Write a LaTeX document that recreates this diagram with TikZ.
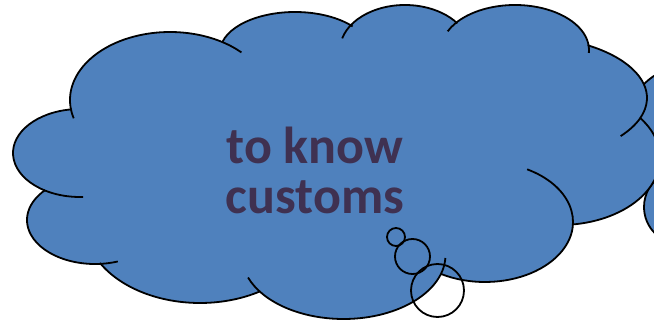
\documentclass[tikz,border=0pt]{standalone}
\usepackage{fontspec}
\setmainfont{Carlito}
\usetikzlibrary{calc}
\definecolor{cloudblue}{RGB}{79,129,189}
\definecolor{textpurple}{RGB}{63,49,81}
\begin{document}
\begin{tikzpicture}[x=1pt,y=-1pt,
  outl/.style={draw=black,line width=1.8pt},
  cloudfill/.style={fill=cloudblue},
  label/.style={font=\bfseries\fontsize{52}{50}\selectfont,text=textpurple,anchor=base,inner sep=0pt}]
\useasboundingbox (0,0) rectangle (654,321);
\clip (0,0) rectangle (654,321);
% second cloud at the right edge (behind)
\fill[cloudfill] (690,130) circle[radius=65];
\fill[cloudfill] (681,207) circle[radius=37];
\draw[outl] ($(690,130)+(190:65)$) arc[start angle=190,end angle=290,radius=65];
\draw[outl] ($(681,207)+(90:37)$) arc[start angle=90,end angle=240,radius=37];
% main cloud fill
\fill[cloudfill]
 ($(95,220)+(85.7:68 and 44)$) arc[start angle=85.7,end angle=222.9,x radius=68,y radius=44]
 -- ($(80,153)+(121.8:67 and 44)$) arc[start angle=121.8,end angle=263.1,x radius=67,y radius=44]
 -- ($(170,100)+(171.5:100 and 68)$) arc[start angle=171.5,end angle=301.9,x radius=100,y radius=68]
 -- ($(295,52)+(194.6:75 and 40)$) arc[start angle=194.6,end angle=320.2,x radius=75,y radius=40]
 -- ($(405,50)+(209.6:65 and 45)$) arc[start angle=209.6,end angle=323.7,x radius=65,y radius=45]
 -- ($(515,50)+(220:74 and 45)$) arc[start angle=220,end angle=353.6,x radius=74,y radius=45]
 -- ($(522,98)+(301.7:125 and 62)$) arc[start angle=301.7,end angle=377.7,x radius=125,y radius=62]
 -- ($(560,158)+(323.3:100 and 67)$) arc[start angle=323.3,end angle=442.5,x radius=100,y radius=67]
 -- ($(485,222)+(1.9:88 and 60)$) arc[start angle=1.9,end angle=119.9,x radius=88,y radius=60]
 -- ($(343.5,255)+(16.2:102 and 64)$) arc[start angle=16.2,end angle=144.8,x radius=102,y radius=64]
 -- ($(200,224)+(58.8:115 and 79)$) arc[start angle=58.8,end angle=150.4,x radius=115,y radius=79]
 -- cycle;
% main cloud outline (lobes with their inner tails)
\draw[outl] ($(95,220)+(70.4:68 and 44)$) arc[start angle=70.4,end angle=222.9,x radius=68,y radius=44];
\draw[outl] ($(80,153)+(87.4:67 and 44)$) arc[start angle=87.4,end angle=263.1,x radius=67,y radius=44];
\draw[outl] ($(170,100)+(164.4:100 and 68)$) arc[start angle=164.4,end angle=315.6,x radius=100,y radius=68];
\draw[outl] ($(295,52)+(194.6:75 and 40)$) arc[start angle=194.6,end angle=320.2,x radius=75,y radius=40];
\draw[outl] ($(405,50)+(195:65 and 45)$) arc[start angle=195,end angle=323.7,x radius=65,y radius=45];
\draw[outl] ($(515,50)+(204.5:74 and 45)$) arc[start angle=204.5,end angle=363.8,x radius=74,y radius=45];
\draw[outl] ($(522,98)+(301.7:125 and 62)$) arc[start angle=301.7,end angle=397.9,x radius=125,y radius=62];
\draw[outl] ($(560,158)+(323.3:100 and 67)$) arc[start angle=323.3,end angle=442.5,x radius=100,y radius=67];
\draw[outl] ($(485,222)+(298.6:88 and 60)$) arc[start angle=298.6,end angle=479.9,x radius=88,y radius=60];
\draw[outl] ($(343.5,255)+(2.7:102 and 64)$) arc[start angle=2.7,end angle=159.4,x radius=102,y radius=64];
\draw[outl] ($(200,224)+(58.8:115 and 79)$) arc[start angle=58.8,end angle=150.4,x radius=115,y radius=79];
% thought bubbles
\draw[outl] (396,237) circle[radius=9];
\draw[outl] (412.5,256.5) circle[radius=17.5];
\draw[outl] (437.5,290.5) circle[radius=26.5];
% text
\node[label] (line1) at (315,163) {to know};
\node[label] (line2) at (315,213) {customs};
\end{tikzpicture}
\end{document}
